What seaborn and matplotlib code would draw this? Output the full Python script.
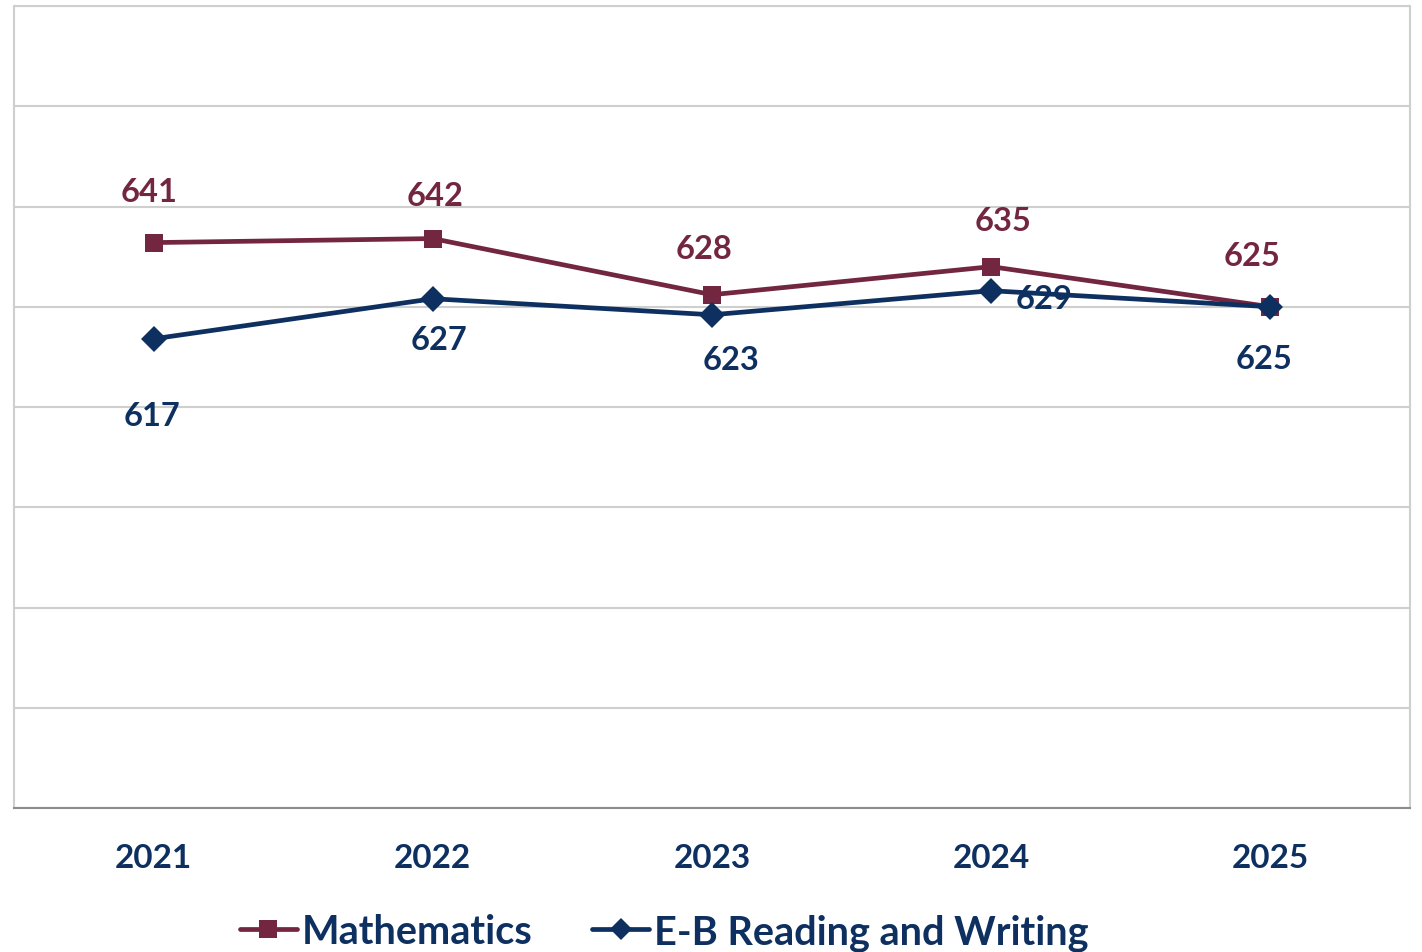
import pandas as pd
import matplotlib.pyplot as plt
import seaborn as sns
from matplotlib.lines import Line2D

# data
years = ["2021", "2022", "2023", "2024", "2025"]
math_scores = [641, 642, 628, 635, 625]
ebrw_scores = [617, 627, 623, 629, 625]
series_names = ["Mathematics", "E-B Reading and Writing"]

# label offsets in pixels (dx, dy), placed by hand like in the original
math_offsets = [(-5, 51), (2, 43), (-8, 46), (12, 46), (-18, 51)]
ebrw_offsets = [(-2, -77), (6, -41), (19, -45), (53, -8), (-6, -52)]

maroon = "#722640"
navy = "#0E3060"

df = pd.DataFrame({
    "pos": list(range(len(years))) * 2,
    "score": math_scores + ebrw_scores,
    "subject": [series_names[0]] * len(years) + [series_names[1]] * len(years),
})

sns.set_style("white")
plt.rcParams["font.family"] = ["Lato", "DejaVu Sans"]

fig = plt.figure(figsize=(14.22, 9.53), dpi=100)
ax = fig.add_axes([14 / 1422, 1 - 809 / 953, (1410 - 14) / 1422, (809 - 7) / 953])

palette = {series_names[0]: maroon, series_names[1]: navy}
markers = {series_names[0]: "s", series_names[1]: "D"}
sns.lineplot(data=df, x="pos", y="score", hue="subject", style="subject",
             palette=palette, markers=markers, dashes=False, linewidth=3.4,
             markersize=13, markeredgewidth=0, legend=False, ax=ax)

# data labels
for i, v in enumerate(math_scores):
    ax.annotate(str(v), (i, v), xytext=math_offsets[i], textcoords="offset pixels",
                ha="center", va="center", fontsize=23.5, fontweight="bold", color=maroon)
for i, v in enumerate(ebrw_scores):
    ax.annotate(str(v), (i, v), xytext=ebrw_offsets[i], textcoords="offset pixels",
                ha="center", va="center", fontsize=23.5, fontweight="bold", color=navy)

ax.set_xlim(-0.5, len(years) - 0.5)
ax.set_ylim(500, 700)
ax.set_yticks(range(500, 701, 25))
ax.set_yticklabels([])
ax.tick_params(axis="y", length=0)
ax.yaxis.grid(True, color="#CFCFCF", linewidth=1.5)
ax.set_axisbelow(True)

ax.set_xticks(range(len(years)))
ax.set_xticklabels(years, fontsize=24, fontweight="bold", color=navy)
ax.set_xticks([i - 0.5 for i in range(len(years) + 1)], minor=True)
ax.tick_params(axis="x", which="major", length=0, pad=25)
ax.tick_params(axis="x", which="minor", length=10, width=1.5, color="#8C8C8C")
ax.set_xlabel("")
ax.set_ylabel("")

for side in ["left", "right", "top"]:
    ax.spines[side].set_color("#CFCFCF")
    ax.spines[side].set_linewidth(1.5)
ax.spines["bottom"].set_color("#8C8C8C")
ax.spines["bottom"].set_linewidth(1.5)

handles = [
    Line2D([], [], color=maroon, marker="s", markersize=13, linewidth=3.4, markeredgewidth=0),
    Line2D([], [], color=navy, marker="D", markersize=11, linewidth=3.4, markeredgewidth=0),
]
leg = fig.legend(handles, series_names, loc="center", bbox_to_anchor=(664 / 1422, 1 - 933 / 953),
                 ncol=2, frameon=False, handlelength=1.45, handletextpad=0.12, columnspacing=1.5,
                 prop={"size": 28.5, "weight": "bold"})
for t in leg.get_texts():
    t.set_color(navy)

fig.savefig("out.png", dpi=100)
